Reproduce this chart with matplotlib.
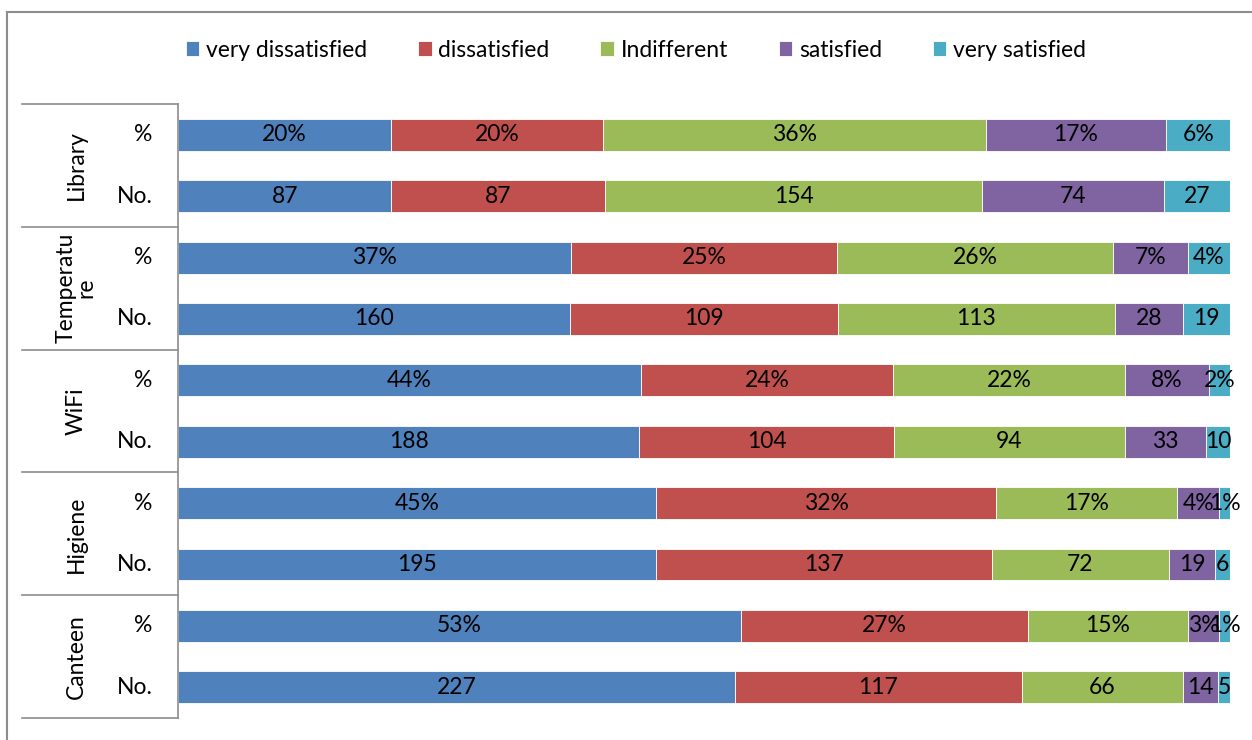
import numpy as np
import matplotlib.pyplot as plt
from matplotlib.lines import Line2D

plt.rcParams['font.family'] = ['Lato', 'DejaVu Sans']

series = ['very dissatisfied', 'dissatisfied', 'Indifferent', 'satisfied', 'very satisfied']
colors = ['#4F81BD', '#C0504D', '#9BBB59', '#8064A2', '#4BACC6']
groups = ['Library', 'Temperatu\nre', 'WiFi', 'Higiene', 'Canteen']
rows = ['%', 'No.']

# one entry per row, top to bottom
pct = {
    'Library': [20, 20, 36, 17, 6],
    'Temperature': [37, 25, 26, 7, 4],
    'WiFi': [44, 24, 22, 8, 2],
    'Higiene': [45, 32, 17, 4, 1],
    'Canteen': [53, 27, 15, 3, 1],
}
num = {
    'Library': [87, 87, 154, 74, 27],
    'Temperature': [160, 109, 113, 28, 19],
    'WiFi': [188, 104, 94, 33, 10],
    'Higiene': [195, 137, 72, 19, 6],
    'Canteen': [227, 117, 66, 14, 5],
}

data = []
labels = []
for k in pct:
    data.append(pct[k])
    labels.append([f'{v}%' for v in pct[k]])
    data.append(num[k])
    labels.append([str(v) for v in num[k]])
data = np.array(data, dtype=float)
shares = data / data.sum(axis=1, keepdims=True)

fig = plt.figure(figsize=(12.52, 7.40), dpi=100)
ax = fig.add_axes([0.1422, 0.0297, 0.8403, 0.8297])

ypos = np.arange(len(data)) + 0.5
left = np.zeros(len(data))
for j in range(len(series)):
    ax.barh(ypos, shares[:, j], left=left, height=0.52, color=colors[j],
            edgecolor='white', linewidth=0.6, label=series[j])
    for i in range(len(data)):
        ax.text(left[i] + shares[i, j] / 2, ypos[i], labels[i][j],
                ha='center', va='center', fontsize=16.5, color='black')
    left += shares[:, j]

ax.set_xlim(0, 1)
ax.set_ylim(len(data), 0)
ax.set_xticks([])
ax.set_yticks([])
for s in ['top', 'right', 'bottom']:
    ax.spines[s].set_visible(False)
ax.spines['left'].set_color('#8c8c8c')
ax.spines['left'].set_linewidth(1.2)

# two-level category axis
for i, y in enumerate(ypos):
    ax.text(-0.024, y, rows[i % 2], transform=ax.get_yaxis_transform(),
            ha='right', va='center', fontsize=16.5)
for g, name in enumerate(groups):
    ax.text(-0.097, 2 * g + 1, name, transform=ax.get_yaxis_transform(),
            ha='center', va='center', rotation=90, fontsize=16.5, linespacing=0.95)
for b in range(len(groups) + 1):
    ax.plot([-0.1483, 0], [2 * b, 2 * b], transform=ax.get_yaxis_transform(),
            color='#8c8c8c', lw=1.2, clip_on=False)

fig.legend(loc='center', bbox_to_anchor=(0.508, 0.932), ncol=5, frameon=False,
           fontsize=16.5, handlelength=0.6, handleheight=0.6, handletextpad=0.3,
           columnspacing=2.2)

# outer frame (left and top edges)
fig.add_artist(Line2D([7 / 1252, 7 / 1252], [0, 1 - 12 / 740], color='#8c8c8c', lw=1.5))
fig.add_artist(Line2D([7 / 1252, 1], [1 - 12 / 740, 1 - 12 / 740], color='#8c8c8c', lw=1.5))

fig.savefig('out.png', dpi=100)
